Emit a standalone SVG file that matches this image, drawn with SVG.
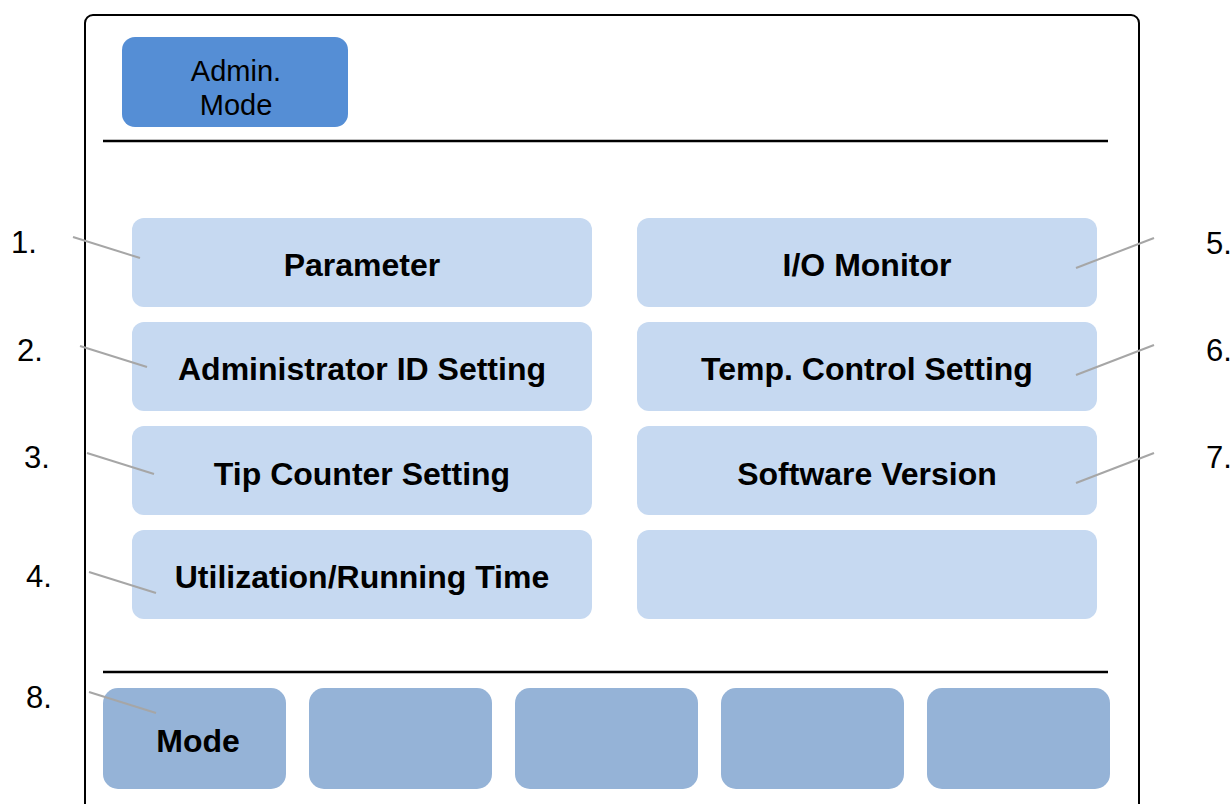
<svg xmlns="http://www.w3.org/2000/svg" width="1232" height="804" viewBox="0 0 1232 804">
  <style>
    .frame { fill: #ffffff; stroke: #000000; stroke-width: 2; }
    .rule { stroke: #000000; stroke-width: 2.5; }
    .mode-tab { fill: #558ed5; }
    .menu { fill: #c6d9f1; }
    .softkey { fill: #95b3d7; }
    .lead { stroke: #a6a6a6; stroke-width: 2; fill: none; }
    .tab-text { font-family: "Liberation Sans", Arial, sans-serif; font-size: 29px; fill: #000; text-anchor: middle; }
    .menu-text { font-family: "Liberation Sans", Arial, sans-serif; font-size: 32px; font-weight: bold; fill: #000; text-anchor: middle; }
    .num { font-family: "Liberation Sans", Arial, sans-serif; font-size: 31px; fill: #000; }
  </style>

  <rect width="1232" height="804" fill="#ffffff"/>

  <!-- screen frame (runs off the bottom edge) -->
  <g id="screen">
    <rect class="frame" x="85" y="15" width="1054" height="820" rx="8"/>
    <line class="rule" x1="103" y1="141" x2="1108" y2="141"/>
    <line class="rule" x1="103" y1="672" x2="1108" y2="672"/>
  </g>

  <g id="admin-mode">
    <rect class="mode-tab" x="122" y="37" width="226" height="90" rx="13"/>
    <text class="tab-text" x="236" y="81">Admin.</text>
    <text class="tab-text" x="236" y="115">Mode</text>
  </g>

  <!-- menu buttons -->
  <g id="parameter">
    <rect class="menu" x="132" y="218" width="460" height="89" rx="12"/>
    <text class="menu-text" x="362" y="276">Parameter</text>
  </g>
  <g id="admin-id">
    <rect class="menu" x="132" y="322" width="460" height="89" rx="12"/>
    <text class="menu-text" x="362" y="380">Administrator ID Setting</text>
  </g>
  <g id="tip-counter">
    <rect class="menu" x="132" y="426" width="460" height="89" rx="12"/>
    <text class="menu-text" x="362" y="485">Tip Counter Setting</text>
  </g>
  <g id="utilization">
    <rect class="menu" x="132" y="530" width="460" height="89" rx="12"/>
    <text class="menu-text" x="362" y="588">Utilization/Running Time</text>
  </g>
  <g id="io-monitor">
    <rect class="menu" x="637" y="218" width="460" height="89" rx="12"/>
    <text class="menu-text" x="867" y="276">I/O Monitor</text>
  </g>
  <g id="temp-control">
    <rect class="menu" x="637" y="322" width="460" height="89" rx="12"/>
    <text class="menu-text" x="867" y="380">Temp. Control Setting</text>
  </g>
  <g id="software-version">
    <rect class="menu" x="637" y="426" width="460" height="89" rx="12"/>
    <text class="menu-text" x="867" y="485">Software Version</text>
  </g>
  <g id="menu-blank">
    <rect class="menu" x="637" y="530" width="460" height="89" rx="12"/>
  </g>

  <!-- soft keys -->
  <g id="key-mode">
    <rect class="softkey" x="103" y="688" width="183" height="101" rx="15"/>
    <text class="menu-text" x="198" y="752">Mode</text>
  </g>
  <g id="key-2"><rect class="softkey" x="309" y="688" width="183" height="101" rx="15"/></g>
  <g id="key-3"><rect class="softkey" x="515" y="688" width="183" height="101" rx="15"/></g>
  <g id="key-4"><rect class="softkey" x="721" y="688" width="183" height="101" rx="15"/></g>
  <g id="key-5"><rect class="softkey" x="927" y="688" width="183" height="101" rx="15"/></g>

  <!-- callout leaders -->
  <g id="connectors">
    <line class="lead" x1="73" y1="237" x2="140" y2="258"/>
    <line class="lead" x1="80" y1="346" x2="147" y2="367"/>
    <line class="lead" x1="87" y1="453" x2="154" y2="474"/>
    <line class="lead" x1="89" y1="572" x2="156" y2="593"/>
    <line class="lead" x1="89" y1="692" x2="156" y2="713"/>
    <line class="lead" x1="1154" y1="238" x2="1076" y2="268"/>
    <line class="lead" x1="1154" y1="345" x2="1076" y2="375"/>
    <line class="lead" x1="1154" y1="453" x2="1076" y2="483"/>
  </g>

  <!-- callout numbers -->
  <g id="callouts">
    <text class="num" x="11" y="253">1.</text>
    <text class="num" x="17" y="361">2.</text>
    <text class="num" x="24" y="468">3.</text>
    <text class="num" x="26" y="587">4.</text>
    <text class="num" x="1206" y="254">5.</text>
    <text class="num" x="1206" y="361">6.</text>
    <text class="num" x="1206" y="468">7.</text>
    <text class="num" x="26" y="708">8.</text>
  </g>
</svg>
